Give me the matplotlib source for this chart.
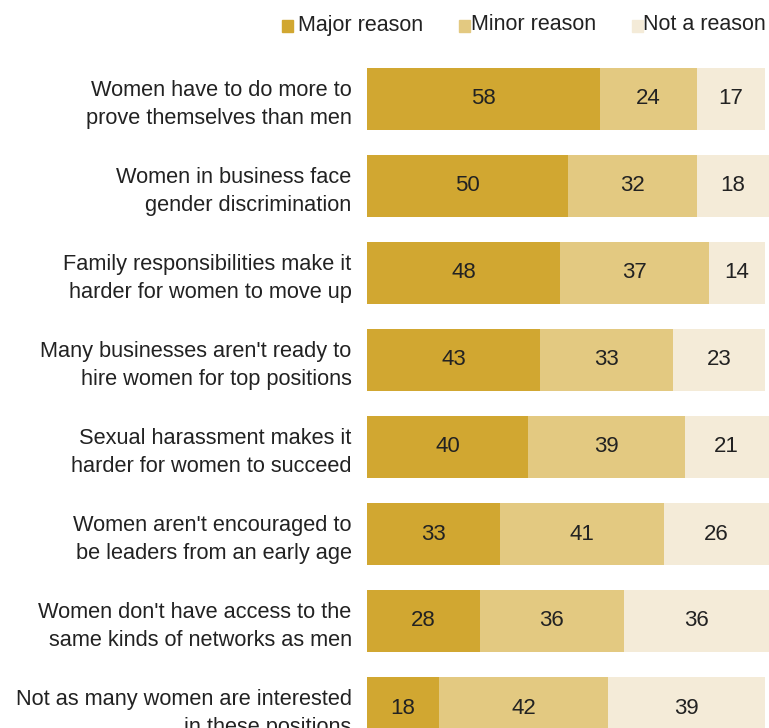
import matplotlib
matplotlib.use("Agg")
import matplotlib.pyplot as plt
from matplotlib.patches import Rectangle

categories = [
    "Women have to do more to\nprove themselves than men",
    "Women in business face\ngender discrimination",
    "Family responsibilities make it\nharder for women to move up",
    "Many businesses aren't ready to\nhire women for top positions",
    "Sexual harassment makes it\nharder for women to succeed",
    "Women aren't encouraged to\nbe leaders from an early age",
    "Women don't have access to the\nsame kinds of networks as men",
    "Not as many women are interested\nin these positions",
]
major = [58, 50, 48, 43, 40, 33, 28, 18]
minor = [24, 32, 37, 33, 39, 41, 36, 42]
not_reason = [17, 18, 14, 23, 21, 26, 36, 39]
series_names = ["Major reason", "Minor reason", "Not a reason"]
colors = ["#D1A731", "#E3C981", "#F4EBD8"]

plt.rcParams['font.family'] = ['Liberation Sans', 'DejaVu Sans']

W, H = 769, 728
fig = plt.figure(figsize=(W / 100, H / 100), dpi=100)
ax = fig.add_axes([367 / W, 0, 1 - 367 / W, 1 - 55 / H])

step = 87.0
ytop = -(99 - 55) / step
ybot = (728 - 99) / step
ax.set_ylim(ybot, ytop)
ax.set_xlim(0, 100)

ys = list(range(len(categories)))
left = [0] * len(categories)
for vals, col in zip([major, minor, not_reason], colors):
    ax.barh(ys, vals, left=left, height=0.71, color=col, edgecolor='none')
    for y, v, l in zip(ys, vals, left):
        ax.text(l + v / 2, y, str(v), ha='center', va='center', fontsize=16, color='#222222')
    left = [a + b for a, b in zip(left, vals)]

ax.set_yticks(ys)
ax.set_yticklabels(categories, fontsize=15.7, color='#222222', linespacing=1.42)
ax.tick_params(axis='y', length=0, pad=11)
ax.set_xticks([])
for s in ax.spines.values():
    s.set_visible(False)

# legend
leg_items = [(282, 298), (459, 471), (632, 643)]
for (sx, tx), name, col in zip(leg_items, series_names, colors):
    fig.patches.append(Rectangle((sx / W, 1 - 32 / H), 11 / W, 12 / H,
                                 transform=fig.transFigure, color=col, figure=fig))
    fig.text(tx / W, 1 - 25 / H, name, ha='left', va='center', fontsize=15.5, color='#222222')

fig.savefig("out.png", dpi=100)
